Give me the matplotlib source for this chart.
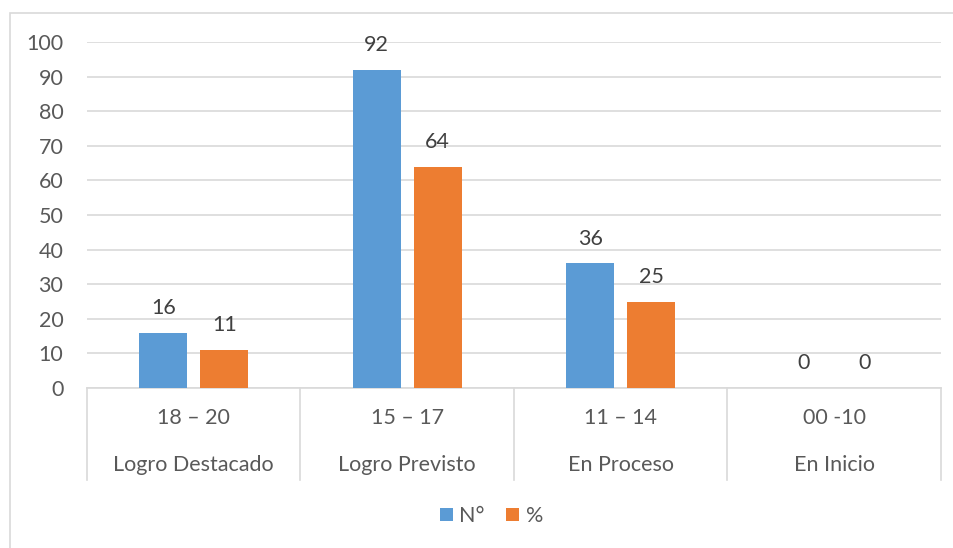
import matplotlib.pyplot as plt
import matplotlib.transforms as mtransforms
from matplotlib.patches import Rectangle
import numpy as np

plt.rcParams['font.family'] = ['Lato', 'DejaVu Sans']

# ====datos
rangos = ['18 – 20', '15 – 17', '11 – 14', '00 -10']
niveles = ['Logro Destacado', 'Logro Previsto', 'En Proceso', 'En Inicio']
numero = [16, 92, 36, 0]
porcentaje = [11, 64, 25, 0]
series = ['N°', '%']

azul = '#5B9BD5'
naranja = '#ED7D31'
gris_texto = '#595959'
gris_linea = '#D9D9D9'
tam = 15.5

fig = plt.figure(figsize=(9.54, 5.48), dpi=100)
ax = fig.add_axes([87 / 954, 1 - 388 / 548, (941 - 87) / 954, (388 - 42) / 548])

x = np.arange(len(rangos))
ancho = 0.225
desp = 0.143
b1 = ax.bar(x - desp, numero, ancho, color=azul, label=series[0], zorder=3)
b2 = ax.bar(x + desp, porcentaje, ancho, color=naranja, label=series[1], zorder=3)

for barras in (b1, b2):
    for r in barras:
        h = r.get_height()
        ax.annotate(f'{h:g}', (r.get_x() + r.get_width() / 2, h), xytext=(0, 10.5),
                    textcoords='offset points', ha='center', va='bottom',
                    fontsize=tam, color='#404040')

ax.set_xlim(-0.5, len(rangos) - 0.5)
ax.set_ylim(0, 100)
ax.set_yticks(range(0, 101, 10))
ax.tick_params(axis='y', length=0, labelsize=tam, labelcolor=gris_texto, pad=17)
ax.set_xticks([])
ax.grid(axis='y', color=gris_linea, linewidth=1.2, zorder=0)
for s in ['top', 'right', 'left']:
    ax.spines[s].set_visible(False)
ax.spines['bottom'].set_color(gris_linea)
ax.spines['bottom'].set_linewidth(1.2)

# ====eje de categorías en dos niveles
trans = mtransforms.blended_transform_factory(ax.transData, ax.transAxes)
y_fondo = -(480 - 388) / (388 - 42)
for i in range(len(rangos) + 1):
    ax.plot([i - 0.5, i - 0.5], [0, y_fondo], transform=trans, color=gris_linea,
            linewidth=1.2, clip_on=False)
for i in range(len(rangos)):
    ax.text(i, -(418 - 388) / 346, rangos[i], transform=trans, ha='center', va='center',
            fontsize=tam, color=gris_texto)
    ax.text(i, -(465 - 388) / 346, niveles[i], transform=trans, ha='center', va='center',
            fontsize=tam, color=gris_texto)

# ====leyenda
fig.legend(handles=[b1, b2], labels=series, loc='center', bbox_to_anchor=(0.515, 1 - 516 / 548),
           ncol=2, frameon=False, fontsize=tam, labelcolor=gris_texto, handlelength=0.6,
           handleheight=0.6, handletextpad=0.3, columnspacing=1.0)

# ====borde del gráfico
fig.patches.append(Rectangle((10 / 954, -0.1), 1.0, 1 - 13 / 548 + 0.1, transform=fig.transFigure,
                             fill=False, edgecolor=gris_linea, linewidth=1.2))

fig.savefig('out.png', dpi=100)
